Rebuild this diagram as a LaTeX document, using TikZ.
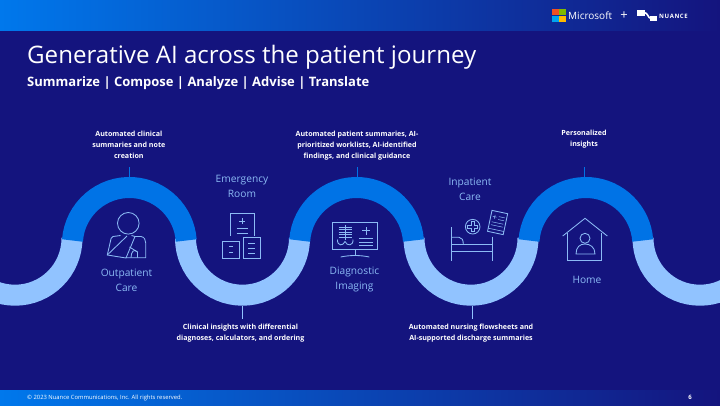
\documentclass[tikz,border=0pt]{standalone}
\usepackage{fontspec}
\setmainfont{Open Sans}
\definecolor{bgnavy}{HTML}{14147E}
\definecolor{arcdark}{HTML}{0073E6}
\definecolor{arclight}{HTML}{91C3FF}
\definecolor{iconblue}{HTML}{8CBBF5}
\definecolor{bandblue}{HTML}{0078EC}
\definecolor{msred}{HTML}{F25022}
\definecolor{msgreen}{HTML}{7FBA00}
\definecolor{msblue}{HTML}{00A4EF}
\definecolor{msyellow}{HTML}{FFB900}
\tikzset{
  arcband/.style={line width=21pt,line cap=butt},
  icon/.style={draw=iconblue,line width=.85pt,fill=none},
  stagelabel/.style={text=iconblue,font=\fontsize{10.2}{15}\selectfont,align=center},
  noteline/.style={font=\fontsize{7.1}{11}\selectfont\bfseries,text=white,align=center},
  ticklight/.style={draw=arclight,line width=.6pt},
  tickdark/.style={draw=arcdark,line width=.7pt},
}
\begin{document}
\begin{tikzpicture}[x=1pt,y=1pt,yscale=-1]
\useasboundingbox (0,0) rectangle (720,405);
\fill[bgnavy] (0,0) rectangle (720,405);
% bands
\shade[left color=bandblue,right color=bgnavy] (0,0) rectangle (720,30);
\shade[left color=bandblue,right color=bgnavy] (0,390) rectangle (720,405);
% wave
\foreach \c in {15,242.5,471,700}{
  \draw[arcband,arclight] (\c-57,238.2) arc[start angle=180,end angle=0,radius=57];
}
\foreach \c in {129.5,356.7,586}{
  \draw[arcband,arcdark] (\c-57,240.5) arc[start angle=184,end angle=356,radius=57] ;
}
% titles
\node[anchor=west,text=white,font=\fontsize{24.1}{28}\selectfont,inner sep=0] (title) at (27,57) {Generative AI across the patient journey};
\node[anchor=west,text=white,font=\fontsize{13}{15}\selectfont\bfseries,inner sep=0] (subtitle) at (27,83) {Summarize | Compose | Analyze | Advise | Translate};
% ticks
\coordinate (t1a) at (129.3,167); \coordinate (t1b) at (129.3,177);
\coordinate (t2a) at (242.3,306); \coordinate (t2b) at (242.3,319);
\coordinate (t3a) at (357.3,167); \coordinate (t3b) at (357.3,177);
\coordinate (t4a) at (472.5,306); \coordinate (t4b) at (472.5,319);
\coordinate (t5a) at (584.3,167); \coordinate (t5b) at (584.3,177);
\draw[tickdark] (t1a) -- (t1b);
\draw[ticklight] (t2a) -- (t2b);
\draw[tickdark] (t3a) -- (t3b);
\draw[ticklight] (t4a) -- (t4b);
\draw[tickdark] (t5a) -- (t5b);
% notes
\node[noteline] (n1) at (128.8,145) {Automated clinical\\summaries and note\\creation};
\node[noteline] (n2) at (240.5,333) {Clinical insights with differential\\diagnoses, calculators, and ordering};
\node[noteline] (n3) at (357,146) {Automated patient summaries, AI-\\prioritized worklists, AI-identified\\findings, and clinical guidance};
\node[noteline] (n4) at (471,333) {Automated nursing flowsheets and\\AI-supported discharge summaries};
\node[noteline] (n5) at (584,138.7) {Personalized\\insights};
% stage labels
\node[stagelabel] (s1) at (126.5,280) {Outpatient\\Care};
\node[stagelabel] (s2) at (242,186) {Emergency\\Room};
\node[stagelabel] (s3) at (354.5,279) {Diagnostic\\Imaging};
\node[stagelabel] (s4) at (470,189) {Inpatient\\Care};
\node[stagelabel] (s5) at (587,279.5) {Home};
% icon: outpatient
\draw[icon] (128.3,223.3) circle (10.8);
\draw[icon] (120.5,235.5) -- (113,236.5) .. controls (111,237) and (111,239) .. (110.5,241) -- (107.3,255) -- (126,258) -- (135,236.5) -- (131.5,235.5);
\draw[icon] (107.3,255) -- (127,236);
\draw[icon] (135,236.5) -- (141,236.5) .. controls (144.5,237) and (145.7,240) .. (145.7,243) -- (145.7,257.7) -- (126,257.7);
\draw[icon] (131,257.7) .. controls (131,252) and (134,248) .. (137.5,252) -- (137.5,257.5);
\draw[icon] (129.5,247) -- (137.5,252);
% icon: ER
\draw[icon] (230,236) -- (230,213.3) -- (254.3,213.3) -- (254.3,236);
\draw[icon] (242,218) -- (242,224) (239,221) -- (245,221);
\draw[icon] (236.5,228) -- (247.5,228) (236.5,233) -- (247.5,233);
\draw[icon] (222.7,241.7) rectangle (239.3,258);
\draw[icon] (243.3,237.7) rectangle (260.7,258);
\draw[icon] (229,246.5) -- (233,246.5) (229,252.5) -- (233,252.5);
\draw[icon] (248,243) -- (255,243) (248,248) -- (255,248) (248,253) -- (255,253);
% icon: imaging
\draw[icon] (332,222.7) rectangle (377.7,249);
\draw[icon] (355,249) -- (355,256);
\draw[icon] (340.7,257) .. controls (350,255) and (360,255) .. (369.3,257);
\foreach \yy in {227,229.5,232,234.5,237}{\draw[icon,line width=.7pt] (338.5,\yy) -- (352,\yy);}
\draw[icon] (345,225) -- (345,240);
\draw[icon] (337.5,239.5) .. controls (337,246) and (343,246.5) .. (345,241.5) .. controls (347,246.5) and (353.5,246) .. (353,239.5);
\draw[icon] (366,227) -- (366,234.5) (362.2,230.7) -- (369.8,230.7);
\draw[icon] (359,238.3) -- (373.3,238.3) (359,242) -- (373.3,242) (359,245.7) -- (373.3,245.7);
% icon: inpatient
\draw[icon] (451.7,227.3) -- (451.7,260.7);
\draw[icon] (492.3,236.7) -- (492.3,260.7);
\draw[icon] (451.7,251.7) -- (492.3,251.7) (451.7,244.3) -- (492.3,244.3);
\draw[icon] (451.7,237.3) -- (459,237.3) .. controls (462,237.3) and (463.3,240) .. (463.3,244.3);
\draw[icon] (472.7,226.7) circle (7.3);
\draw[icon,line width=.7pt] (471,221.7) -- (474.4,221.7) -- (474.4,225) -- (477.7,225) -- (477.7,228.4) -- (474.4,228.4) -- (474.4,231.7) -- (471,231.7) -- (471,228.4) -- (467.7,228.4) -- (467.7,225) -- (471,225) -- cycle;
\begin{scope}[shift={(497.6,222.5)},rotate=12]
\draw[icon] (-8,-10.7) rectangle (8,10.7);
\draw[icon,line width=.6pt] (-8,7.5) -- (8,7.5);
\draw[icon,line width=.5pt] (-6,-5) -- (-2,-5) (-4,-7) -- (-4,-3) (0,-6) -- (6,-6) (0,-3) -- (6,-3) (-6,0.5) -- (6,0.5) (-6,3.5) -- (6,3.5);
\end{scope}
% icon: home
\draw[icon] (562.7,236) -- (585,218.3) -- (607.3,236);
\draw[icon] (567.7,232.5) -- (567.7,260) -- (601.7,260) -- (601.7,232.5);
\draw[icon] (585,238.3) circle (5);
\draw[icon] (576,254) .. controls (576,247) and (580,244) .. (585,244) .. controls (590,244) and (595,247) .. (595,254) -- cycle;
% logos
\fill[msred] (552,9) rectangle (558.6,15.3);
\fill[msgreen] (559,9) rectangle (565.6,15.3);
\fill[msblue] (552,15.7) rectangle (558.6,22);
\fill[msyellow] (559,15.7) rectangle (565.6,22);
\node[anchor=west,text=white,font=\fontsize{10}{11}\selectfont,inner sep=0] (ms) at (568,15.5) {Microsoft};
\node[text=white,font=\fontsize{13}{13}\selectfont,inner sep=0] (plus) at (624,15.5) {+};
\fill[white] (637.3,10) rectangle (645,15.5);
\fill[white] (650,16) rectangle (657,21);
\draw[white,line width=1.6pt] (644,12.5) .. controls (648,12.5) and (648,18.5) .. (651,18.5);
\node[anchor=west,text=white,font=\fontsize{6}{7}\selectfont\bfseries\addfontfeature{LetterSpace=10},inner sep=0] (nu) at (659,16) {NUANCE};
% footer
\node[anchor=west,text=white,font=\fontsize{5.85}{7}\selectfont,inner sep=0] (copy) at (27,398.3) {© 2023 Nuance Communications, Inc. All rights reserved.};
\node[text=white,font=\fontsize{6}{7}\selectfont\bfseries,inner sep=0] (pg) at (690,397.3) {6};
\end{tikzpicture}
\end{document}
